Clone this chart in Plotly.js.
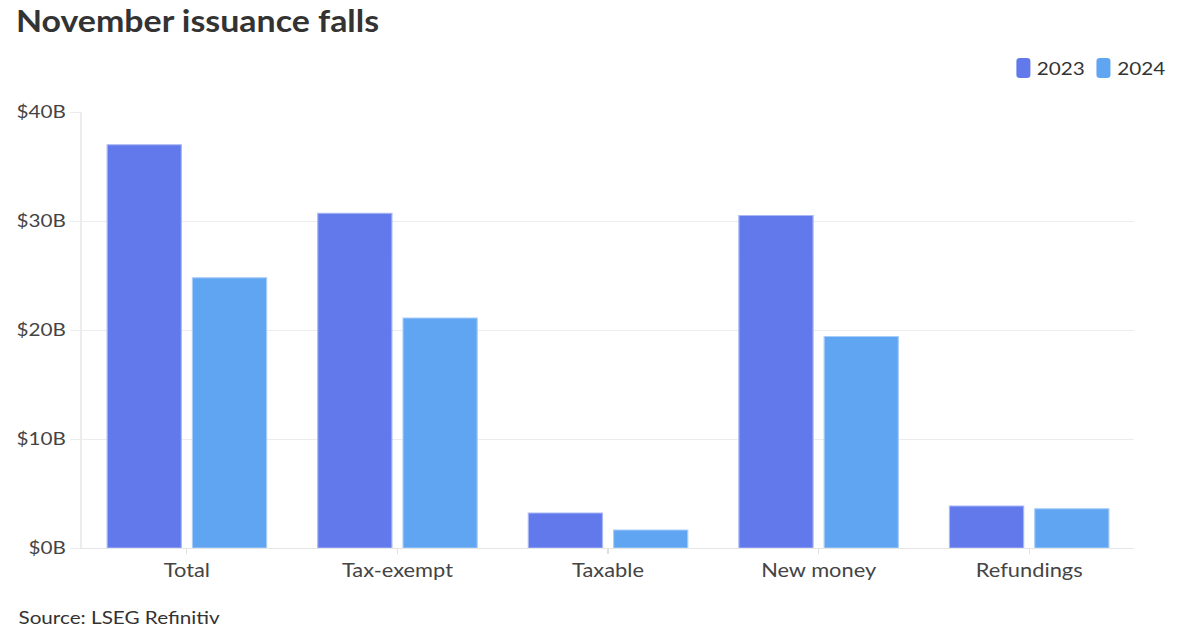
<!DOCTYPE html>
<html>
<head>
<meta charset="utf-8">
<script src="https://cdn.plot.ly/plotly-3.0.1.min.js"></script>
<style>
html,body{margin:0;padding:0;background:#fff;overflow:hidden;width:1200px;height:630px;}
#chart{width:1044px;height:630px;transform:scaleX(1.14943);transform-origin:0 0;}
</style>
</head>
<body>
<div id="chart"></div>
<script>
const categories = ["Total", "Tax-exempt", "Taxable", "New money", "Refundings"];
const values2023 = [37.0, 30.7, 3.2, 30.5, 3.85];
const values2024 = [24.8, 21.1, 1.65, 19.4, 3.6];
const seriesNames = ["2023", "2024"];
const seriesColors = ["#6279ec", "#60a5f2"];
const yTickVals = [0, 10, 20, 30, 40];
const yTickText = ["$0B", "$10B", "$20B", "$30B", "$40B"];

// layout geometry (unstretched px; page is stretched horizontally by 1.149)
const W = 1044, H = 630, S = 1200 / 1044;
const L = 82 / S, R = W - 1134 / S, T = 112, B = 82;
const pw = W - L - R, ph = H - T - B;
const px = v => (v / S - L) / pw;       // stretched page x -> paper x
const py = v => (H - B - v) / ph;       // page y -> paper y

const font = "Lato, 'Open Sans', sans-serif";
const traces = [
  {type: "bar", name: seriesNames[0], x: categories, y: values2023,
   marker: {color: seriesColors[0], line: {color: "#a9b7f5", width: 1}}},
  {type: "bar", name: seriesNames[1], x: categories, y: values2024,
   marker: {color: seriesColors[1], line: {color: "#a8cdf7", width: 1}}}
];

// custom legend (rounded swatches + labels)
const legendX = [1016, 1096];
const shapes = [], annotations = [];
legendX.forEach((lx, i) => {
  const x0 = px(lx), x1 = px(lx + 14), y0 = py(78), y1 = py(58);
  const rx = (x1 - x0) * 0.25, ry = (y1 - y0) * 0.15;
  shapes.push({type: "path", xref: "paper", yref: "paper", fillcolor: seriesColors[i],
    line: {width: 0},
    path: `M${x0 + rx},${y0} L${x1 - rx},${y0} Q${x1},${y0} ${x1},${y0 + ry} L${x1},${y1 - ry} Q${x1},${y1} ${x1 - rx},${y1} L${x0 + rx},${y1} Q${x0},${y1} ${x0},${y1 - ry} L${x0},${y0 + ry} Q${x0},${y0} ${x0 + rx},${y0} Z`});
  annotations.push({text: seriesNames[i], xref: "paper", yref: "paper", x: px(lx + 18),
    xanchor: "left", y: py(68), yanchor: "middle", showarrow: false,
    font: {family: font, size: 18, color: "#333"}});
});
annotations.push({text: "Source: LSEG Refinitiv", xref: "paper", yref: "paper",
  x: px(16), xanchor: "left", y: py(630), yanchor: "bottom",
  showarrow: false, font: {family: font, size: 18, color: "#333"}});

const layout = {
  width: W, height: H,
  margin: {l: L, r: R, t: T, b: B},
  paper_bgcolor: "#fff", plot_bgcolor: "#fff",
  font: {family: font, color: "#444", size: 18},
  title: {text: "<b>November issuance falls</b>", x: 16 / S / W, xanchor: "left",
          y: 0.982, yanchor: "top", yref: "container",
          font: {family: font, size: 29.5, color: "#333"}},
  barmode: "group", bargap: 0.19, bargroupgap: 0.13,
  showlegend: false,
  xaxis: {type: "category", showgrid: false, showline: true, linecolor: "#e6e6e6", linewidth: 1,
          ticks: "outside", ticklen: 5, tickcolor: "#e0e0e0", tickfont: {size: 19, color: "#444"},
          zeroline: false, fixedrange: true},
  yaxis: {range: [0, 40], tickvals: yTickVals, ticktext: yTickText, showgrid: true,
          gridcolor: "#ececec", gridwidth: 1, showline: true, linecolor: "#ececec",
          ticks: "outside", ticklen: 9, tickcolor: "#ececec", zeroline: false,
          tickfont: {size: 18, color: "#444"}, fixedrange: true},
  shapes: shapes,
  annotations: annotations
};
Plotly.newPlot("chart", traces, layout, {displayModeBar: false, staticPlot: true});
</script>
</body>
</html>
